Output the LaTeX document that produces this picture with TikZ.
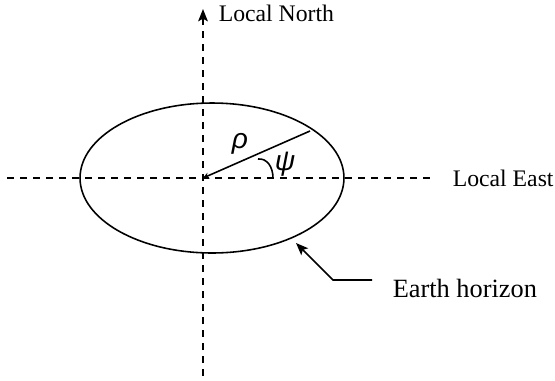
\documentclass[tikz,border=0pt]{standalone}
\usepackage{fontspec}
\setmainfont{Liberation Serif}
\newfontfamily\greekfont{Liberation Sans}
\usetikzlibrary{arrows.meta,calc,positioning,shapes.geometric}

\begin{document}
\begin{tikzpicture}[>={Stealth[length=7pt,width=5.5pt,inset=1.5pt]},x=0.02cm,y=-0.02cm,line width=0.9pt,
		axis/.style={dash pattern=on 4pt off 3.4pt},
		lbl/.style={font=\fontsize{13.5}{16}\selectfont,anchor=west,inner sep=0pt},
		greek/.style={font=\greekfont\itshape\fontsize{16}{18}\selectfont,inner sep=0pt}]
		\useasboundingbox (0,0) rectangle (555,380);
		
		% Axes
		\coordinate (O) at (203,178);
		\coordinate (west) at (7,178);
		\coordinate (east) at (433,178);
		\coordinate (south) at (203,376);
		\coordinate (north) at (203,9);
		\draw[axis] (west) -- (east);
		\draw[axis,->] (south) -- (north);
		\node[lbl] (northlbl) at (218,13) {Local North};
		\node[lbl] (eastlbl) at (452,178) {Local East};
		
		% Earth horizon
		\node[draw,ellipse,minimum width=5.28cm,minimum height=3cm,inner sep=0pt] (horizon) at (212,178) {};
		
		% Radius and angle
		\coordinate (rim) at (310,131);
		\draw[-{Stealth[length=3.5pt,width=3.5pt]}] (rim) -- (O);
		\node[greek] (rho) at (240,144) {ρ};
		\coordinate (arcstart) at (258,159);
		\coordinate (arcend) at (273,178);
		\draw (arcstart) .. controls (267,158) and (273,167) .. (arcend);
		\node[greek] (psi) at (285,164) {ψ};
		
		% Pointer to horizon
		\coordinate (tip) at (296,243);
		\coordinate (elbow) at (333,280);
		\coordinate (tail) at (372,280);
		\draw[->] (tail) -- (elbow) -- (tip);
		\node[lbl,font=\fontsize{15}{18}\selectfont] (horizonlbl) at (392,288) {Earth horizon};
		
	\end{tikzpicture}
\end{document}
